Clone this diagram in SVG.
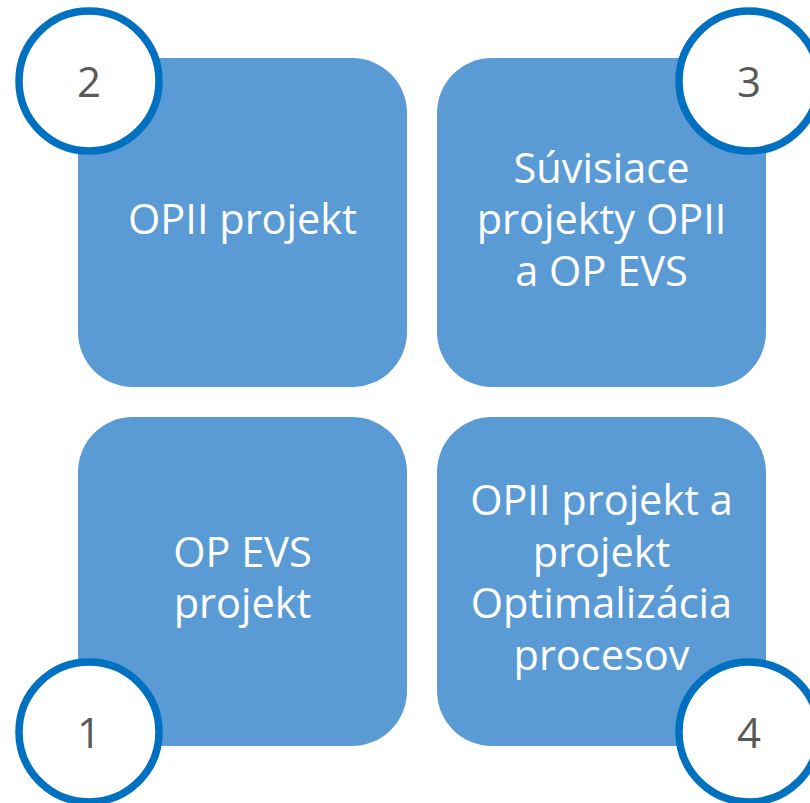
<svg xmlns="http://www.w3.org/2000/svg" width="810" height="803" viewBox="0 0 810 803">
<style>
.box{fill:#5B9BD5}
.lbl{font-family:"Open Sans","Liberation Sans",Arial,sans-serif;font-size:41.5px;fill:#FFFFFF;text-anchor:middle}
.ring{fill:#FFFFFF;stroke:#0070C0;stroke-width:7.5}
.num{font-family:"Open Sans","Liberation Sans",Arial,sans-serif;font-size:42px;fill:#595959;text-anchor:middle}
</style>
<rect width="810" height="803" fill="#FFFFFF"/>
<g id="connectors"/>
<g id="node-opii">
<rect class="box" x="78" y="58" width="329" height="329" rx="55" ry="55"/>
<text class="lbl" x="242.5" y="234">OPII projekt</text>
</g>
<g id="node-suvisiace">
<rect class="box" x="437" y="58" width="329" height="329" rx="55" ry="55"/>
<text class="lbl" x="601.5" y="183">Súvisiace</text>
<text class="lbl" x="601.5" y="234">projekty OPII</text>
<text class="lbl" x="601.5" y="286">a OP EVS</text>
</g>
<g id="node-opevs">
<rect class="box" x="78" y="417" width="329" height="329" rx="55" ry="55"/>
<text class="lbl" x="242.5" y="567">OP EVS</text>
<text class="lbl" x="242.5" y="618">projekt</text>
</g>
<g id="node-optimalizacia">
<rect class="box" x="437" y="417" width="329" height="329" rx="55" ry="55"/>
<text class="lbl" x="601.5" y="515">OPII projekt a</text>
<text class="lbl" x="601.5" y="567">projekt</text>
<text class="lbl" x="601.5" y="618">Optimalizácia</text>
<text class="lbl" x="601.5" y="670">procesov</text>
</g>
<g id="badge-2">
<circle class="ring" cx="89" cy="81" r="70"/>
<text class="num" x="89" y="97">2</text>
</g>
<g id="badge-3">
<circle class="ring" cx="749" cy="81" r="70"/>
<text class="num" x="749" y="97">3</text>
</g>
<g id="badge-1">
<circle class="ring" cx="89" cy="732" r="70"/>
<text class="num" x="89" y="748">1</text>
</g>
<g id="badge-4">
<circle class="ring" cx="749" cy="732" r="70"/>
<text class="num" x="749" y="748">4</text>
</g>
</svg>
